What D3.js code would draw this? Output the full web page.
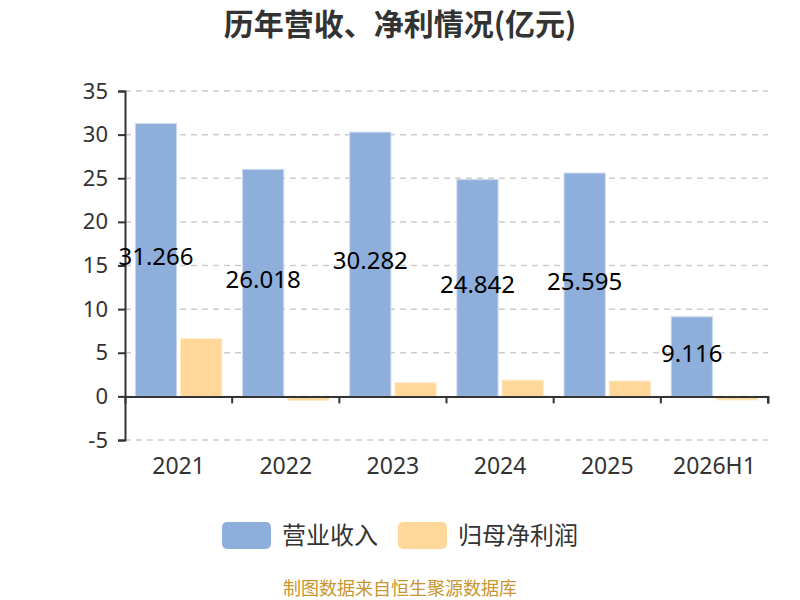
<!DOCTYPE html>
<html>
<head>
<meta charset="utf-8">
<script src="https://cdn.jsdelivr.net/npm/d3@7"></script>
<style>
  body { margin: 0; background: #fff; }
  text { font-family: "Noto Sans", "Noto Sans CJK SC", sans-serif; }
</style>
</head>
<body>
<div id="chart"></div>
<script>
// data
var categories = ["2021", "2022", "2023", "2024", "2025", "2026H1"];
var revenue = [31.266, 26.018, 30.282, 24.842, 25.595, 9.116];
var netProfit = [6.6, -0.45, 1.55, 1.85, 1.75, -0.4];
var seriesNames = ["营业收入", "归母净利润"];
var yTicks = [-5, 0, 5, 10, 15, 20, 25, 30, 35];

var colors = ["#8eaedb", "#ffd899"];

var W = 800, H = 600;
var margin = { top: 91, right: 32, bottom: 160, left: 125 },
  width = W - margin.left - margin.right,
  height = H - margin.top - margin.bottom;

var svg = d3.select("#chart")
  .append("svg")
  .attr("width", W)
  .attr("height", H);

// title
svg.append("text")
  .attr("x", W / 2)
  .attr("y", 35)
  .attr("text-anchor", "middle")
  .style("font-family", "'Noto Sans CJK SC'")
  .attr("font-weight", "bold")
  .attr("font-size", 30)
  .attr("fill", "#333")
  .text("历年营收、净利情况(亿元)");

var g = svg.append("g")
  .attr("transform", "translate(" + margin.left + "," + margin.top + ")");

var x = d3.scaleBand()
  .domain(categories)
  .range([0, width])
  .paddingInner(0)
  .paddingOuter(0);

var x1 = d3.scaleBand()
  .domain([0, 1])
  .range([0, x.bandwidth()])
  .paddingInner(0.09)
  .paddingOuter(0.23);

var y = d3.scaleLinear()
  .domain([-5, 35])
  .range([height, 0]);

// dashed grid
g.append("g")
  .selectAll("line")
  .data(yTicks)
  .enter()
  .append("line")
  .attr("x1", 0)
  .attr("x2", width)
  .attr("y1", function (d) { return y(d); })
  .attr("y2", function (d) { return y(d); })
  .attr("stroke", "#ccc")
  .attr("stroke-width", 1.5)
  .attr("stroke-dasharray", "6,5");

// y axis
var yAxis = g.append("g")
  .call(d3.axisLeft(y).tickValues(yTicks).tickSize(7).tickPadding(10)
    .tickFormat(function (d) { return String(d); }));
yAxis.select(".domain").attr("stroke", "#333").attr("stroke-width", 2);
yAxis.selectAll(".tick line").attr("stroke", "#333").attr("stroke-width", 2);
yAxis.selectAll(".tick text")
  .attr("font-size", 22)
  .attr("fill", "#333");

// bars
var rows = categories.map(function (c, i) {
  return { cat: c, vals: [revenue[i], netProfit[i]] };
});

var groups = g.selectAll(".grp")
  .data(rows)
  .enter()
  .append("g")
  .attr("class", "grp")
  .attr("transform", function (d) { return "translate(" + x(d.cat) + ",0)"; });

groups.selectAll("rect")
  .data(function (d) { return d.vals.map(function (v, k) { return { k: k, v: v }; }); })
  .enter()
  .append("rect")
  .attr("x", function (d) { return x1(d.k); })
  .attr("width", x1.bandwidth())
  .attr("y", function (d) { return y(Math.max(0, d.v)); })
  .attr("height", function (d) { return Math.abs(y(d.v) - y(0)); })
  .attr("fill", function (d) { return colors[d.k]; })
  .attr("stroke", function (d) { return d.k === 0 ? "#c9d8ee" : "#ffe7c2"; })
  .attr("stroke-width", 1);

// x axis at zero
var xAxis = g.append("g")
  .attr("transform", "translate(0," + y(0) + ")")
  .call(d3.axisBottom(x).tickSize(7).tickFormat(""));
xAxis.select(".domain").attr("stroke", "#333").attr("stroke-width", 2);
xAxis.selectAll(".tick").attr("transform", function (d) {
  return "translate(" + (x(d) + x.bandwidth()) + ",0)";
});
xAxis.selectAll(".tick line").attr("stroke", "#333").attr("stroke-width", 2);

// category labels below plot
g.append("g")
  .selectAll("text")
  .data(categories)
  .enter()
  .append("text")
  .attr("x", function (d) { return x(d) + x.bandwidth() / 2; })
  .attr("y", height + 34)
  .attr("text-anchor", "middle")
  .attr("font-size", 23)
  .attr("fill", "#333")
  .text(function (d) { return d; });

// revenue value labels, centred in bar
groups.append("text")
  .attr("x", x1(0) + x1.bandwidth() / 2)
  .attr("y", function (d) { return y(d.vals[0] / 2) + 5; })
  .attr("text-anchor", "middle")
  .attr("font-size", 24)
  .attr("fill", "#000")
  .text(function (d) { return d.vals[0].toFixed(3); });

// legend
var legend = svg.append("g");
var legendX = [222, 398];
seriesNames.forEach(function (name, i) {
  legend.append("rect")
    .attr("x", legendX[i])
    .attr("y", 522)
    .attr("width", 49)
    .attr("height", 27)
    .attr("rx", 5)
    .attr("fill", colors[i]);
  legend.append("text")
    .attr("x", legendX[i] + 60)
    .attr("y", 544)
    .style("font-family", "'Noto Sans CJK SC'")
    .attr("font-size", 24)
    .attr("fill", "#333")
    .text(name);
});

// source footnote
svg.append("text")
  .attr("x", W / 2)
  .attr("y", 595)
  .attr("text-anchor", "middle")
  .style("font-family", "'Noto Sans CJK SC'")
  .attr("font-size", 18)
  .attr("fill", "#c8952e")
  .text("制图数据来自恒生聚源数据库");
</script>
</body>
</html>
